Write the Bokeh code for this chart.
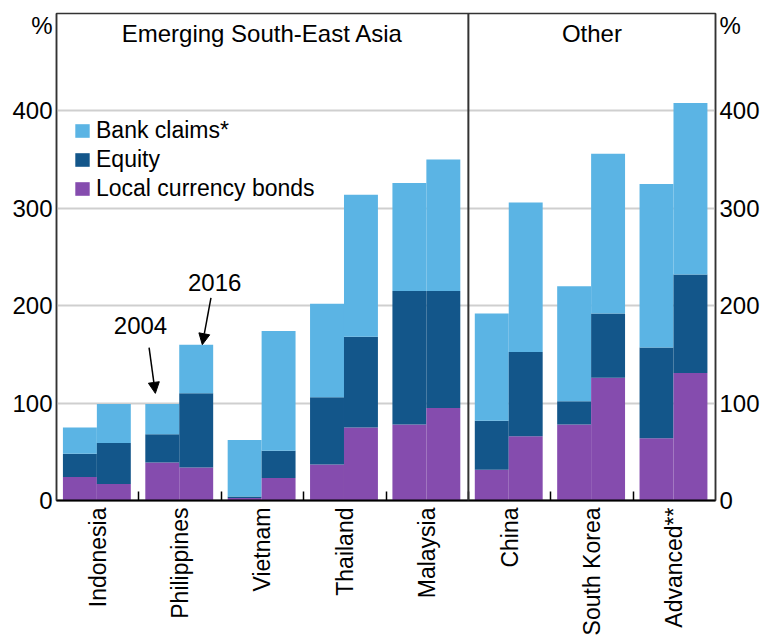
from bokeh.plotting import figure
from bokeh.models import (Range1d, FixedTicker, LinearAxis, Legend, LegendItem,
                          Label, Arrow, NormalHead, Span, ColumnDataSource)
from bokeh.embed import file_html
from bokeh.resources import INLINE

# ---- data -------------------------------------------------------------
countries = ["Indonesia", "Philippines", "Vietnam", "Thailand", "Malaysia",
             "China", "South Korea", "Advanced**"]
# 2004 segments (per cent of GDP)
bonds_2004 = [24, 39, 2.5, 37, 78, 31.5, 78, 64]
equity_2004 = [24, 29, 1.5, 69, 137, 50.5, 24, 93]
bank_2004 = [27, 31, 58, 96, 111, 110, 118, 168]
# 2016 segments
bonds_2016 = [17, 34, 23, 75, 95, 66, 126, 131]
equity_2016 = [42, 76, 28, 93, 120, 86.5, 66, 101]
bank_2016 = [40, 50, 123, 146, 135, 153.5, 164, 176]

series_names = ["Local currency bonds", "Equity", "Bank claims*"]
y_ticks = [0, 100, 200, 300, 400]
group_titles = ["Emerging South-East Asia", "Other"]

# ---- styling ----------------------------------------------------------
FONT = "Liberation Sans"
C_BANK = "#5BB4E4"
C_EQ = "#13568A"
C_BOND = "#854CAE"
colors = [C_BOND, C_EQ, C_BANK]

n = len(countries)
bw = 0.412
x04 = [i + 0.49 - bw / 2 for i in range(n)]
x16 = [i + 0.49 + bw / 2 for i in range(n)]

src04 = ColumnDataSource(dict(x=x04, bonds=bonds_2004, equity=equity_2004, bank=bank_2004))
src16 = ColumnDataSource(dict(x=x16, bonds=bonds_2016, equity=equity_2016, bank=bank_2016))

p = figure(width=762, height=644, output_backend="svg", toolbar_location=None,
           x_range=Range1d(0, n), y_range=Range1d(0, 500),
           min_border_left=56, min_border_right=46, min_border_top=13,
           min_border_bottom=144)

r04 = p.vbar_stack(["bonds", "equity", "bank"], x="x", width=bw, color=colors,
                   line_width=0, source=src04)
r16 = p.vbar_stack(["bonds", "equity", "bank"], x="x", width=bw, color=colors,
                   line_width=0, source=src16)

# grid
p.xgrid.visible = False
p.ygrid.ticker = FixedTicker(ticks=[100, 200, 300, 400])
p.ygrid.grid_line_color = "#cfcfcf"
p.ygrid.grid_line_width = 2
p.ygrid.level = "underlay"

p.outline_line_color = "#333333"
p.outline_line_width = 1.5
p.background_fill_color = "white"
p.border_fill_color = "white"

# x axis: labels at centres, small inner ticks at boundaries
xa = p.xaxis[0]
xa.ticker = FixedTicker(ticks=[i + 0.5 for i in range(n)],
                        minor_ticks=list(range(1, n)))
xa.major_label_overrides = {i + 0.5: c for i, c in enumerate(countries)}
xa.major_label_orientation = 3.14159265 / 2
xa.major_tick_in = 0
xa.major_tick_out = 0
xa.minor_tick_in = 9
xa.minor_tick_out = 0
xa.minor_tick_line_color = "black"
xa.minor_tick_line_width = 1.5
xa.axis_line_color = "black"
xa.axis_line_width = 2
xa.major_label_text_font = FONT
xa.major_label_text_font_size = "23px"
xa.major_label_text_color = "black"
xa.major_label_standoff = 7

# y axes
yt = FixedTicker(ticks=y_ticks + [488])
overrides = {488: "%"}
ya = p.yaxis[0]
ra = LinearAxis()
p.add_layout(ra, "right")
for ax in (ya, ra):
    ax.ticker = yt
    ax.major_label_overrides = overrides
    ax.major_tick_in = 0
    ax.major_tick_out = 0
    ax.minor_tick_in = 0
    ax.minor_tick_out = 0
    ax.axis_line_color = "#333333"
    ax.axis_line_width = 1.5
    ax.major_label_text_font = FONT
    ax.major_label_text_font_size = "24px"
    ax.major_label_text_color = "black"
    ax.major_label_standoff = 4

# separator between groups
p.add_layout(Span(location=5, dimension="height", line_color="#333333", line_width=2))

# group titles
for xpos, t in zip([2.5, 6.5], group_titles):
    p.add_layout(Label(x=xpos, y=479, text=t, text_align="center", text_baseline="middle",
                       text_font=FONT, text_font_size="24px", text_color="black"))

# year annotations with arrows
p.add_layout(Label(x=1.02, y=180, text="2004", text_align="center", text_baseline="middle",
                   text_font=FONT, text_font_size="24px", text_color="black"))
p.add_layout(Label(x=1.92, y=224, text="2016", text_align="center", text_baseline="middle",
                   text_font=FONT, text_font_size="24px", text_color="black"))
p.add_layout(Arrow(x_start=1.124, y_start=157, x_end=1.20, y_end=110,
                   line_width=1.5, line_color="black",
                   end=NormalHead(size=11, fill_color="black", line_color="black")))
p.add_layout(Arrow(x_start=1.875, y_start=208, x_end=1.77, y_end=160,
                   line_width=1.5, line_color="black",
                   end=NormalHead(size=11, fill_color="black", line_color="black")))

# legend
legend = Legend(items=[LegendItem(label=series_names[2], renderers=[r04[2]]),
                       LegendItem(label=series_names[1], renderers=[r04[1]]),
                       LegendItem(label=series_names[0], renderers=[r04[0]])],
                location=(17, 298), padding=0, margin=0, spacing=2,
                glyph_width=18, glyph_height=17, label_height=27,
                label_standoff=5, label_text_font=FONT, label_text_font_size="23px",
                label_text_color="black", border_line_color=None,
                background_fill_alpha=0)
p.add_layout(legend, "center")

open("out.html", "w").write(file_html(p, INLINE))
